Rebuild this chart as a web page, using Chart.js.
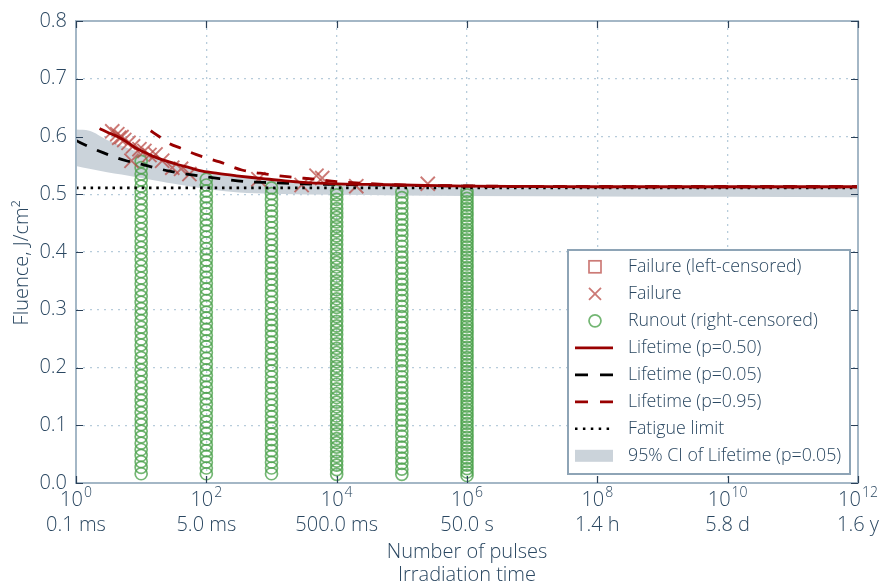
<!DOCTYPE html>
<html><head><meta charset="utf-8">
<script src="https://cdn.jsdelivr.net/npm/chart.js@4"></script>
<style>html,body{margin:0;padding:0;background:#fff}canvas{display:block}</style>
</head><body>
<canvas id="c" width="885" height="588"></canvas>
<script>
// ---------- tick labels ----------
const xTickValues = [1, 1e2, 1e4, 1e6, 1e8, 1e10, 1e12];
const xTickExponents = ['0', '2', '4', '6', '8', '10', '12'];
const xTimeLabels = ['0.1 ms', '5.0 ms', '500.0 ms', '50.0 s', '1.4 h', '5.8 d', '1.6 y'];
const yTickValues = [0.0, 0.1, 0.2, 0.3, 0.4, 0.5, 0.6, 0.7, 0.8];
const xTitleLines = ['Number of pulses', 'Irradiation time'];
const yTitle = 'Fluence, J/cm²';
const legendLabels = ['Failure (left-censored)', 'Failure', 'Runout (right-censored)',
  'Lifetime (p=0.50)', 'Lifetime (p=0.05)', 'Lifetime (p=0.95)', 'Fatigue limit',
  '95% CI of Lifetime (p=0.05)'];

// ---------- failures ----------
const failureN = [3.6, 4.3, 4.6, 5.0, 5.5, 6.4, 7.1, 7.5, 9.4, 11.2, 13.4, 16.6, 21, 30, 41, 55, 630, 2900, 4900, 6000, 20000, 250000];
const failureF = [0.609, 0.604, 0.598, 0.599, 0.594, 0.589, 0.558, 0.583, 0.578, 0.575, 0.568, 0.569, 0.558, 0.546, 0.544, 0.535, 0.526, 0.516, 0.532, 0.528, 0.514, 0.518];
const leftCensoredN = [];
const leftCensoredF = [];

// ---------- runouts (one column per pulse count) ----------
const runoutN = [10, 100, 1000, 1e4, 1e5, 1e6];
const runout1e1 = [0.016,0.027,0.037,0.048,0.058,0.069,0.080,0.090,0.101,0.111,0.122,0.133,0.143,0.154,0.164,0.175,0.186,0.196,0.207,0.217,0.228,0.239,0.249,0.260,0.270,0.281,0.292,0.302,0.313,0.323,0.334,0.345,0.355,0.366,0.376,0.387,0.398,0.408,0.419,0.429,0.440,0.451,0.461,0.472,0.482,0.493,0.504,0.514,0.525,0.535,0.546,0.557];
const runout1e2 = [0.016,0.026,0.036,0.046,0.056,0.066,0.076,0.086,0.096,0.106,0.116,0.126,0.136,0.146,0.156,0.166,0.176,0.186,0.196,0.206,0.216,0.226,0.236,0.246,0.256,0.266,0.276,0.286,0.296,0.306,0.316,0.326,0.336,0.346,0.356,0.366,0.376,0.386,0.396,0.406,0.416,0.426,0.436,0.446,0.456,0.466,0.476,0.486,0.496,0.506,0.516,0.526];
const runout1e3 = [0.016,0.026,0.036,0.046,0.056,0.066,0.075,0.085,0.095,0.105,0.115,0.125,0.135,0.145,0.155,0.165,0.174,0.184,0.194,0.204,0.214,0.224,0.234,0.244,0.254,0.264,0.273,0.283,0.293,0.303,0.313,0.323,0.333,0.343,0.353,0.363,0.372,0.382,0.392,0.402,0.412,0.422,0.432,0.442,0.452,0.462,0.471,0.481,0.491,0.501,0.511];
const runout1e4 = [0.015,0.023,0.031,0.038,0.046,0.054,0.062,0.070,0.077,0.085,0.093,0.101,0.109,0.116,0.124,0.132,0.140,0.148,0.155,0.163,0.171,0.179,0.187,0.194,0.202,0.210,0.218,0.226,0.233,0.241,0.249,0.257,0.265,0.272,0.280,0.288,0.296,0.304,0.311,0.319,0.327,0.335,0.343,0.350,0.358,0.366,0.374,0.382,0.389,0.397,0.405,0.413,0.421,0.428,0.436,0.444,0.452,0.460,0.467,0.475,0.483,0.491,0.499,0.506];
const runout1e5 = [0.015,0.024,0.034,0.043,0.053,0.062,0.071,0.081,0.090,0.100,0.109,0.118,0.128,0.137,0.147,0.156,0.165,0.175,0.184,0.194,0.203,0.212,0.222,0.231,0.241,0.250,0.259,0.269,0.278,0.288,0.297,0.306,0.316,0.325,0.335,0.344,0.353,0.363,0.372,0.382,0.391,0.400,0.410,0.419,0.429,0.438,0.447,0.457,0.466,0.476,0.485,0.494,0.504];
const runout1e6 = [0.013,0.019,0.025,0.031,0.037,0.043,0.049,0.055,0.061,0.067,0.073,0.079,0.085,0.091,0.097,0.103,0.109,0.115,0.121,0.127,0.133,0.139,0.145,0.151,0.157,0.163,0.169,0.175,0.181,0.187,0.193,0.199,0.205,0.211,0.217,0.223,0.229,0.235,0.241,0.247,0.253,0.259,0.265,0.271,0.277,0.283,0.289,0.295,0.301,0.307,0.313,0.319,0.325,0.331,0.337,0.343,0.349,0.355,0.361,0.367,0.373,0.379,0.385,0.391,0.397,0.403,0.409,0.415,0.421,0.427,0.433,0.439,0.445,0.451,0.457,0.463,0.469,0.475,0.481,0.487,0.493,0.499,0.505];
const runoutColumns = [runout1e1, runout1e2, runout1e3, runout1e4, runout1e5, runout1e6];

// ---------- lifetime curves ----------
const medianN = [2.3, 3.2, 4.7, 6.5, 8.3, 11, 15, 22, 35, 55, 87, 150, 290, 500, 930, 2700, 1e4, 3e4, 1e5, 1e6, 1e7, 1e8, 1e10, 1e12];
const medianF = [0.614, 0.606, 0.598, 0.588, 0.580, 0.573, 0.566, 0.559, 0.552, 0.546, 0.540, 0.536, 0.532, 0.529, 0.526, 0.521, 0.518, 0.517, 0.516, 0.514, 0.5135, 0.513, 0.513, 0.513];
const p95N = [14, 20, 27, 40, 69, 100, 160, 350, 830, 1900, 4600, 1e4, 2.5e4, 1e5, 1e6, 1e7, 1e8, 1e10, 1e12];
const p95F = [0.610, 0.598, 0.588, 0.580, 0.569, 0.563, 0.556, 0.542, 0.535, 0.530, 0.526, 0.522, 0.519, 0.516, 0.5145, 0.5135, 0.513, 0.513, 0.513];
const p05N = [1, 1.6, 2.6, 4, 5.9, 10, 16, 27, 50, 100, 160, 400, 1000, 3000, 1e4, 1e5, 1e6, 1e7, 1e8, 1e10, 1e12];
const p05F = [0.593, 0.582, 0.572, 0.564, 0.558, 0.552, 0.546, 0.540, 0.535, 0.530, 0.527, 0.522, 0.520, 0.518, 0.517, 0.5155, 0.514, 0.5133, 0.513, 0.513, 0.513];
const ciN = [1, 1.6, 3, 5, 10, 20, 32, 100, 316, 1000, 1e4, 1e5, 1e6, 1e8, 1e10, 1e12];
const ciUpper = [0.612, 0.610, 0.594, 0.584, 0.571, 0.560, 0.553, 0.540, 0.531, 0.525, 0.518, 0.515, 0.514, 0.513, 0.513, 0.513];
const ciLower = [0.549, 0.544, 0.538, 0.534, 0.528, 0.522, 0.518, 0.509, 0.503, 0.501, 0.499, 0.498, 0.497, 0.496, 0.4955, 0.495];
const fatigueN = [1, 1e12];
const fatigueF = [0.511, 0.511];

// ---------- styles ----------
const TEXT = '#2a4761';
const FRAME = '#a4b7c6';
const TICKC = '#2a4058';
const GRID = '#b7ccdb';
const RED = '#990000';
const CROSS = 'rgba(185,70,65,0.72)';
const GREEN = 'rgba(75,162,75,0.78)';
const BAND = '#cbd3da';
const FONT = "'Open Sans', 'DejaVu Sans', sans-serif";
const FS = 20;

const pts = (xs, ys) => xs.map((v, i) => ({x: v, y: ys[i]}));
const runoutPts = [];
runoutColumns.forEach((col, j) => col.forEach(f => runoutPts.push({x: runoutN[j], y: f})));

const lineDs = (label, xs, ys, color, dash, order, width) => ({
  label, data: pts(xs, ys), showLine: true, borderColor: color, borderWidth: width,
  borderDash: dash, pointRadius: 0, fill: false, order,
  cubicInterpolationMode: 'monotone', borderCapStyle: 'butt'
});

const datasets = [
  {label: 'ciUpper', data: pts(ciN, ciUpper), showLine: true, borderWidth: 0, pointRadius: 0,
   backgroundColor: BAND, fill: '+1', order: 20, cubicInterpolationMode: 'monotone'},
  {label: 'ciLower', data: pts(ciN, ciLower), showLine: true, borderWidth: 0, pointRadius: 0,
   fill: false, order: 20, cubicInterpolationMode: 'monotone'},
  {label: legendLabels[2], data: runoutPts, pointStyle: 'circle', pointRadius: 6,
   borderColor: GREEN, backgroundColor: 'rgba(0,0,0,0)', pointBorderWidth: 1.7, showLine: false, order: 10},
  {label: legendLabels[0], data: pts(leftCensoredN, leftCensoredF), pointStyle: 'rect', pointRadius: 6,
   borderColor: CROSS, backgroundColor: 'rgba(0,0,0,0)', showLine: false, order: 9},
  {label: legendLabels[1], data: pts(failureN, failureF), pointStyle: 'crossRot', pointRadius: 10,
   borderColor: CROSS, pointBorderWidth: 1.9, showLine: false, order: 8},
  lineDs(legendLabels[6], fatigueN, fatigueF, '#000', [2.5, 4.8], 6, 2.6),
  lineDs(legendLabels[4], p05N, p05F, '#000', [12, 11], 4, 2.8),
  lineDs(legendLabels[5], p95N, p95F, RED, [12, 11], 3, 2.8),
  lineDs(legendLabels[3], medianN, medianF, RED, [], 2, 2.8)
];

const decor = {
  id: 'decor',
  afterDraw(chart) {
    const {ctx, chartArea: a, scales: {x, y}} = chart;
    ctx.save();
    // frame
    ctx.strokeStyle = FRAME; ctx.lineWidth = 2;
    ctx.strokeRect(a.left, a.top, a.right - a.left, a.bottom - a.top);
    // inward tick marks
    ctx.strokeStyle = TICKC; ctx.lineWidth = 1.2;
    ctx.beginPath();
    yTickValues.forEach(v => {
      const py = Math.round(y.getPixelForValue(v)) + 0.5;
      ctx.moveTo(a.left, py); ctx.lineTo(a.left + 7, py);
      ctx.moveTo(a.right - 7, py); ctx.lineTo(a.right, py);
    });
    xTickValues.forEach(v => {
      const px = Math.round(x.getPixelForValue(v)) + 0.5;
      ctx.moveTo(px, a.bottom); ctx.lineTo(px, a.bottom - 7);
      ctx.moveTo(px, a.top); ctx.lineTo(px, a.top + 7);
    });
    ctx.stroke();
    // x tick labels: 10^n and time
    ctx.fillStyle = TEXT;
    ctx.textBaseline = 'alphabetic';
    xTickValues.forEach((v, i) => {
      const px = x.getPixelForValue(v);
      ctx.font = '300 ' + FS + 'px ' + FONT;
      const wb = ctx.measureText('10').width;
      ctx.font = '300 14px ' + FONT;
      const we = ctx.measureText(xTickExponents[i]).width;
      const start = px - (wb + we + 1) / 2;
      ctx.textAlign = 'left';
      ctx.font = '300 ' + FS + 'px ' + FONT;
      ctx.fillText('10', start, a.bottom + 23);
      ctx.font = '300 14px ' + FONT;
      ctx.fillText(xTickExponents[i], start + wb + 1, a.bottom + 14);
      ctx.font = '300 ' + FS + 'px ' + FONT;
      ctx.textAlign = 'center';
      ctx.fillText(xTimeLabels[i], px, a.bottom + 48);
    });
    // y title
    ctx.save();
    ctx.translate(22, 263);
    ctx.rotate(-Math.PI / 2);
    ctx.textAlign = 'center'; ctx.textBaseline = 'middle';
    ctx.font = '300 ' + FS + 'px ' + FONT;
    ctx.fillText(yTitle, 0, 0);
    ctx.restore();
    // legend
    const lx = 568, ly = 250, lw = 282, lh = 224;
    ctx.fillStyle = '#fff';
    ctx.fillRect(lx, ly, lw, lh);
    ctx.strokeStyle = '#8ea4b6'; ctx.lineWidth = 2;
    ctx.strokeRect(lx, ly, lw, lh);
    const cx = 595, x0 = 575, x1 = 613;
    legendLabels.forEach((lab, i) => {
      const cy = 266.8 + 27 * i;
      ctx.save();
      ctx.setLineDash([]);
      if (i === 0) {
        ctx.strokeStyle = CROSS; ctx.lineWidth = 1.7;
        ctx.strokeRect(cx - 6, cy - 6, 12, 12);
      } else if (i === 1) {
        ctx.strokeStyle = CROSS; ctx.lineWidth = 1.8;
        ctx.beginPath();
        ctx.moveTo(cx - 6, cy - 6); ctx.lineTo(cx + 6, cy + 6);
        ctx.moveTo(cx + 6, cy - 6); ctx.lineTo(cx - 6, cy + 6);
        ctx.stroke();
      } else if (i === 2) {
        ctx.strokeStyle = GREEN; ctx.lineWidth = 1.7;
        ctx.beginPath(); ctx.arc(cx, cy, 6, 0, Math.PI * 2); ctx.stroke();
      } else if (i === 7) {
        ctx.fillStyle = BAND;
        ctx.fillRect(x0, cy - 6, x1 - x0, 12);
      } else {
        const color = (i === 3 || i === 5) ? RED : '#000';
        const dash = i === 3 ? [] : (i === 6 ? [2.5, 5.4] : [13, 12]);
        ctx.strokeStyle = color; ctx.lineWidth = i === 6 ? 2.6 : 2.8;
        ctx.setLineDash(dash);
        ctx.beginPath(); ctx.moveTo(x0, cy); ctx.lineTo(x1, cy); ctx.stroke();
      }
      ctx.restore();
      ctx.fillStyle = TEXT;
      ctx.font = '300 17.8px ' + FONT;
      ctx.textAlign = 'left'; ctx.textBaseline = 'middle';
      ctx.fillText(lab, 628, cy);
    });
    ctx.restore();
  }
};

new Chart(document.getElementById('c'), {
  type: 'scatter',
  data: {datasets},
  plugins: [decor],
  options: {
    responsive: false,
    animation: false,
    devicePixelRatio: 1,
    layout: {padding: {left: 0, right: 27, top: 19, bottom: 0}},
    plugins: {legend: {display: false}, tooltip: {enabled: false}},
    scales: {
      x: {
        type: 'logarithmic', min: 1, max: 1e12,
        afterBuildTicks: s => { s.ticks = xTickValues.map(v => ({value: v})); },
        afterFit: s => { s.height = 105; },
        ticks: {display: false},
        grid: {color: GRID, lineWidth: 1.3, drawTicks: false},
        border: {display: false, dash: [2, 5]},
        title: {display: true, text: xTitleLines, color: TEXT,
                font: {family: FONT, size: FS, weight: '300', lineHeight: 1.15}, padding: {top: 0, bottom: 1}}
      },
      y: {
        type: 'linear', min: 0, max: 0.8,
        afterBuildTicks: s => { s.ticks = yTickValues.map(v => ({value: v})); },
        afterFit: s => { s.width = 76; },
        ticks: {color: TEXT, font: {family: FONT, size: FS, weight: '300'}, padding: 9,
                callback: v => Number(v).toFixed(1)},
        grid: {color: GRID, lineWidth: 1.3, drawTicks: false},
        border: {display: false, dash: [2, 5]}
      }
    }
  }
});
</script>
</body></html>
